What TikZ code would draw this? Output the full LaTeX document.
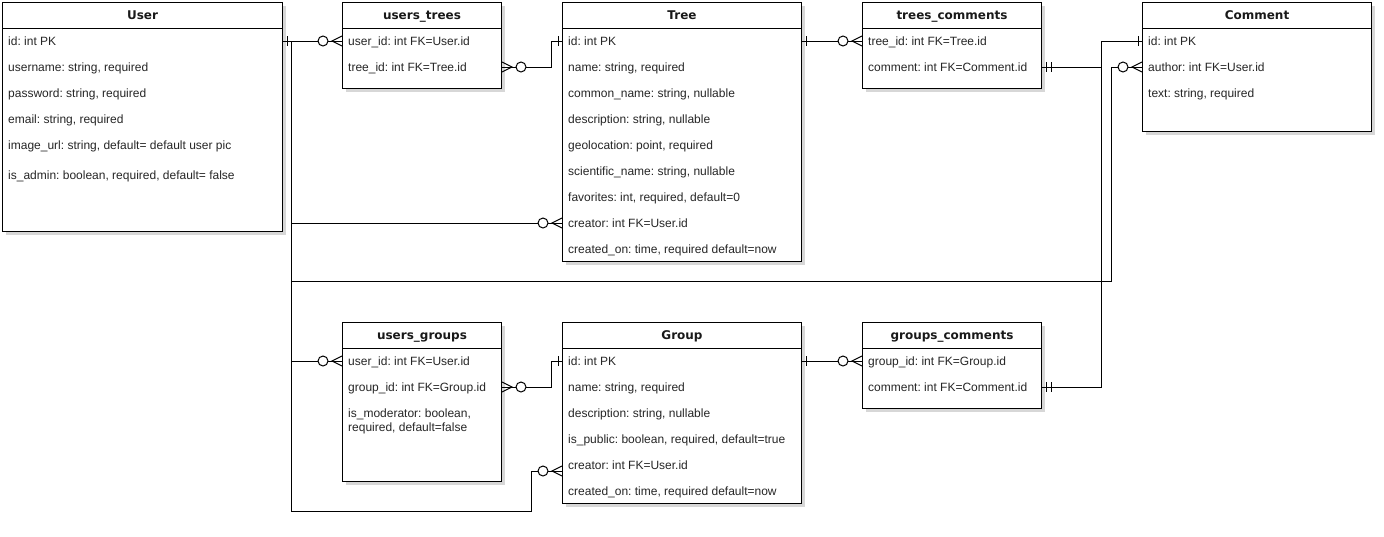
\documentclass[tikz,border=0pt]{standalone}
\usepackage{fontspec}
\setmainfont{Liberation Sans}
\newfontfamily\titlefont{DejaVu Sans}
\usetikzlibrary{calc,shadows}
\frenchspacing
\tikzset{
  erbox/.style={draw=black, line width=1pt, fill=white, inner sep=0pt,
    drop shadow={opacity=0.22, fill=black!70, shadow xshift=3pt, shadow yshift=-3pt}},
  ertitle/.style={font=\titlefont\bfseries\fontsize{12}{14}\selectfont, text=black!90,
    inner sep=0pt, text height=8.7pt, text depth=0pt},
  field/.style={font=\fontsize{12}{14}\selectfont, text=black!85, inner sep=0pt,
    text height=8.6pt, text depth=0pt, anchor=west},
  erline/.style={draw=black, line width=1pt},
  conn/.style={draw=black, line width=1pt},
  zmany/.pic={\draw[conn] (0,-5) -- (10,0) -- (0,5); \draw[conn, fill=white] (19,0) circle[radius=5];},
  onebar/.pic={\draw[conn] (4,-5) -- (4,5);},
  mandone/.pic={\draw[conn] (4,-5) -- (4,5) (9,-5) -- (9,5);}
}
% #1 name, #2 x, #3 y, #4 width, #5 height, #6 title
\newcommand\erbox[6]{%
  \node[erbox, minimum width=#4pt, minimum height=#5pt, anchor=north west] (#1) at (#2,#3) {};
  \node[ertitle] (#1-title) at ($(#1.north)+(0,13)$) {#6};
  \draw[erline] ($(#1.north west)+(0,26)$) -- ($(#1.north east)+(0,26)$);
}
% #1 box, #2 row name, #3 offset from top, #4 text
\newcommand\erfield[4]{%
  \node[field] (#2) at ($(#1.north west)+(6,#3)$) {#4};
}
\begin{document}
\begin{tikzpicture}[x=1pt, y=-1pt]
\useasboundingbox[fill=white] (0,0) rectangle (1384,536);

% ---------- tables ----------
\erbox{User}{2}{2}{280}{229}{User}
\erfield{User}{u1}{39}{id: int PK}
\erfield{User}{u2}{65}{username: string, required}
\erfield{User}{u3}{91}{password: string, required}
\erfield{User}{u4}{117}{email: string, required}
\erfield{User}{u5}{143}{image\_url: string, default= default user pic}
\erfield{User}{u6}{173}{is\_admin: boolean, required, default= false}

\erbox{UT}{342}{2}{159}{86}{users\_trees}
\erfield{UT}{ut1}{39}{user\_id: int FK=User.id}
\erfield{UT}{ut2}{65}{tree\_id: int FK=Tree.id}

\erbox{Tree}{562}{2}{239}{259}{Tree}
\erfield{Tree}{t1}{39}{id: int PK}
\erfield{Tree}{t2}{65}{name: string, required}
\erfield{Tree}{t3}{91}{common\_name: string, nullable}
\erfield{Tree}{t4}{117}{description: string, nullable}
\erfield{Tree}{t5}{143}{geolocation: point, required}
\erfield{Tree}{t6}{169}{scientific\_name: string, nullable}
\erfield{Tree}{t7}{195}{favorites: int, required, default=0}
\erfield{Tree}{t8}{221}{creator: int FK=User.id}
\erfield{Tree}{t9}{247}{created\_on: time, required default=now}

\erbox{TC}{862}{2}{179}{86}{trees\_comments}
\erfield{TC}{tc1}{39}{tree\_id: int FK=Tree.id}
\erfield{TC}{tc2}{65}{comment: int FK=Comment.id}

\erbox{Comment}{1142}{2}{229}{129}{Comment}
\erfield{Comment}{c1}{39}{id: int PK}
\erfield{Comment}{c2}{65}{author: int FK=User.id}
\erfield{Comment}{c3}{91}{text: string, required}

\erbox{UG}{342}{322}{159}{159}{users\_groups}
\erfield{UG}{ug1}{39}{user\_id: int FK=User.id}
\erfield{UG}{ug2}{65}{group\_id: int FK=Group.id}
\erfield{UG}{ug3a}{91}{is\_moderator: boolean,}
\erfield{UG}{ug3b}{105.5}{required, default=false}

\erbox{Group}{562}{322}{239}{181}{Group}
\erfield{Group}{g1}{39}{id: int PK}
\erfield{Group}{g2}{65}{name: string, required}
\erfield{Group}{g3}{91}{description: string, nullable}
\erfield{Group}{g4}{117}{is\_public: boolean, required, default=true}
\erfield{Group}{g5}{143}{creator: int FK=User.id}
\erfield{Group}{g6}{169}{created\_on: time, required default=now}

\erbox{GC}{862}{322}{179}{86}{groups\_comments}
\erfield{GC}{gc1}{39}{group\_id: int FK=Group.id}
\erfield{GC}{gc2}{65}{comment: int FK=Comment.id}

% ---------- waypoints ----------
\coordinate (busX) at (291,0);
\coordinate (busY) at (0,281);
\coordinate (busEnd) at (0,511);
\coordinate (authX) at (1111,0);
\coordinate (cmtX) at (1101,0);
\coordinate (jogX) at (551,0);
\coordinate (grX) at (531,0);
\coordinate (gcr) at ($(Group.west|-g5.west)+(0,6)$);

% ---------- connectors ----------
\draw[conn] (User.east|-u1.west) -- (UT.west|-ut1.west);
\draw[conn] (User.east|-u1.west) -- (busX|-u1.west) |- (Tree.west|-t8.west);
\draw[conn] (User.east|-u1.west) -- (busX|-u1.west) -- (busX|-busY) -- (authX|-busY) |- (Comment.west|-c2.west);
\draw[conn] (User.east|-u1.west) -- (busX|-u1.west) |- (UG.west|-ug1.west);
\draw[conn] (User.east|-u1.west) -- (busX|-u1.west) -- (busX|-busEnd) -- (grX|-busEnd) |- (gcr);
\draw[conn] (UT.east|-ut2.west) -- (jogX|-ut2.west) |- (Tree.west|-t1.west);
\draw[conn] (Tree.east|-t1.west) -- (TC.west|-tc1.west);
\draw[conn] (TC.east|-tc2.west) -- (cmtX|-tc2.west) |- (Comment.west|-c1.west);
\draw[conn] (UG.east|-ug2.west) -- (jogX|-ug2.west) |- (Group.west|-g1.west);
\draw[conn] (Group.east|-g1.west) -- (GC.west|-gc1.west);
\draw[conn] (GC.east|-gc2.west) -- (cmtX|-gc2.west) |- (Comment.west|-c1.west);

% ---------- end markers ----------
\pic at (User.east|-u1.west) {onebar};
\pic[rotate=180] at (UT.west|-ut1.west) {zmany};
\pic[rotate=180] at (Tree.west|-t8.west) {zmany};
\pic[rotate=180] at (Comment.west|-c2.west) {zmany};
\pic[rotate=180] at (UG.west|-ug1.west) {zmany};
\pic[rotate=180] at (gcr) {zmany};
\pic at (UT.east|-ut2.west) {zmany};
\pic[rotate=180] at (Tree.west|-t1.west) {onebar};
\pic at (Tree.east|-t1.west) {onebar};
\pic[rotate=180] at (TC.west|-tc1.west) {zmany};
\pic at (TC.east|-tc2.west) {mandone};
\pic[rotate=180] at (Comment.west|-c1.west) {onebar};
\pic at (UG.east|-ug2.west) {zmany};
\pic[rotate=180] at (Group.west|-g1.west) {onebar};
\pic at (Group.east|-g1.west) {onebar};
\pic[rotate=180] at (GC.west|-gc1.west) {zmany};
\pic at (GC.east|-gc2.west) {mandone};
\end{tikzpicture}
\end{document}
